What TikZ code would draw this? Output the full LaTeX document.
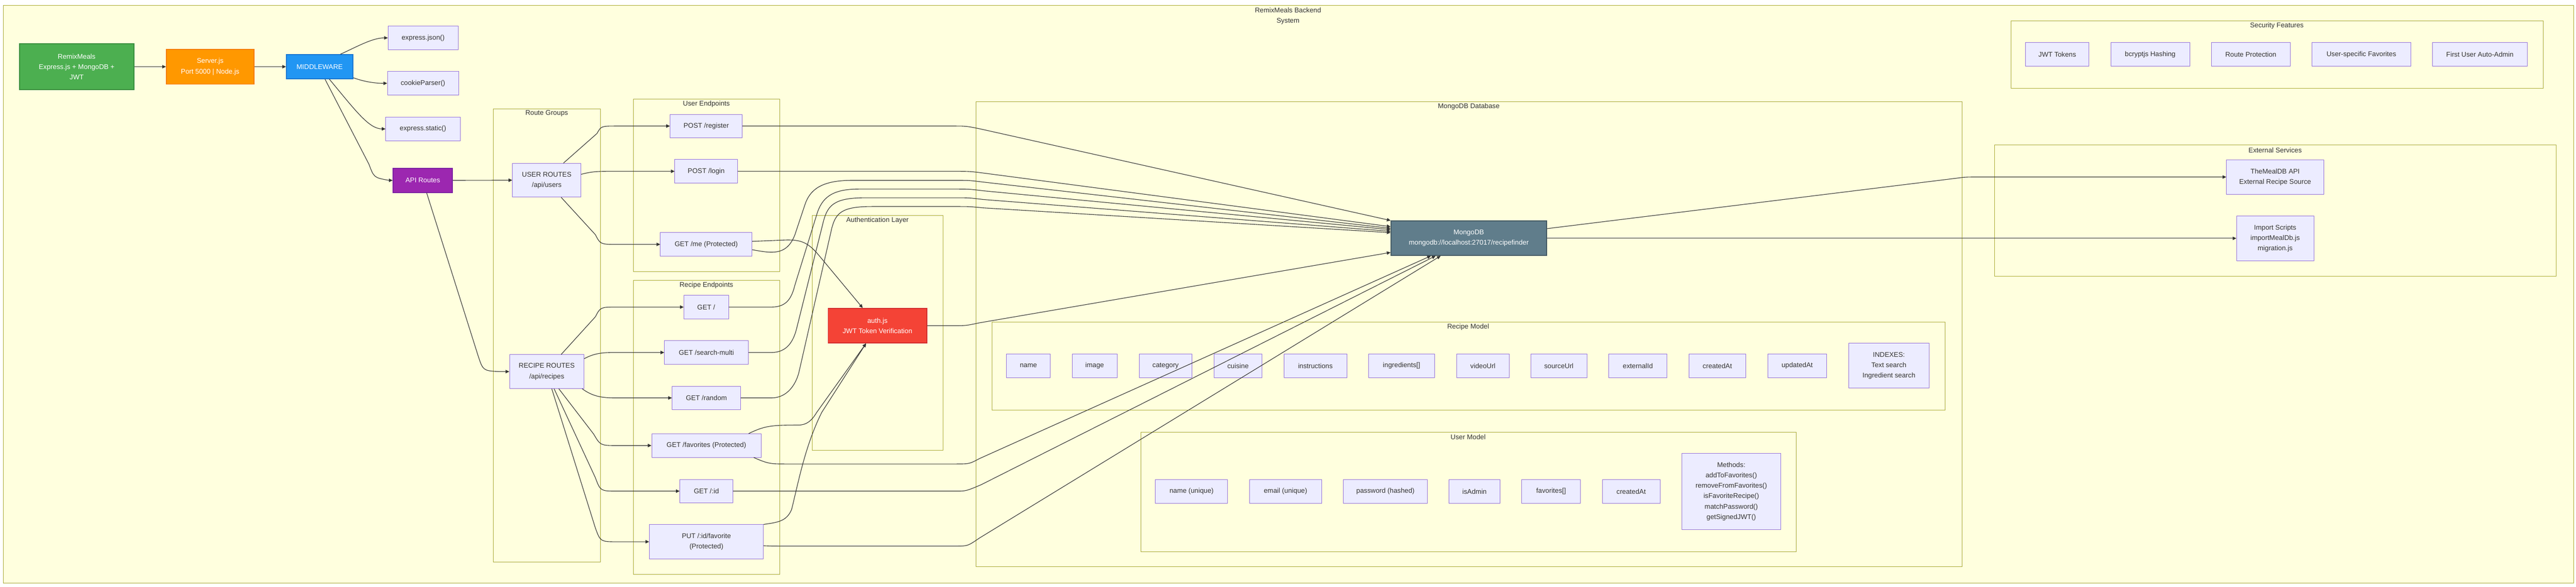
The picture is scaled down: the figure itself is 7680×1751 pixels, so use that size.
\documentclass[tikz,border=0pt]{standalone}
\usepackage{fontspec}
\setmainfont{Liberation Sans}
\usetikzlibrary{arrows.meta}
\definecolor{clfill}{HTML}{FFFFDE}
\definecolor{cldraw}{HTML}{AAAA33}
\definecolor{ndfill}{HTML}{ECECFF}
\definecolor{nddraw}{HTML}{9370DB}
\definecolor{edgec}{HTML}{333333}
\definecolor{txt}{HTML}{333333}
\definecolor{gfill}{HTML}{4CAF50}\definecolor{gdraw}{HTML}{388E3C}
\definecolor{ofill}{HTML}{FF9800}\definecolor{odraw}{HTML}{F57C00}
\definecolor{bfill}{HTML}{2196F3}\definecolor{bdraw}{HTML}{1976D2}
\definecolor{pfill}{HTML}{9C27B0}\definecolor{pdraw}{HTML}{7B1FA2}
\definecolor{rfill}{HTML}{F44336}\definecolor{rdraw}{HTML}{D32F2F}
\definecolor{mfill}{HTML}{607D8B}\definecolor{mdraw}{HTML}{455A64}
\begin{document}
\begin{tikzpicture}[x=1pt,y=-1pt,
  cluster/.style={draw=cldraw,fill=clfill,line width=1.3pt,anchor=north west,inner sep=0pt},
  ctitle/.style={text=txt,font=\fontsize{20.4}{30}\selectfont,inner sep=0pt,align=center},
  nbox/.style={draw=nddraw,fill=ndfill,line width=1.3pt,text=txt,align=center,inner sep=0pt,font=\fontsize{20.4}{31}\selectfont},
  cbox/.style={line width=2.6pt,text=white,align=center,inner sep=0pt,font=\fontsize{20.4}{31}\selectfont},
  edge/.style={draw=edgec,line width=1.7pt,-{Triangle[length=11pt,width=10pt]}}
]
\useasboundingbox (0,0) rectangle (7680,1751);
\fill[white] (0,0) rectangle (7680,1751);

% ---------- clusters ----------
\node[cluster,minimum width=7663pt,minimum height=1722pt] (system) at (9,16) {};
\node[ctitle] (systemtitle) at (3840,48) {RemixMeals Backend\\System};

\node[cluster,minimum width=320pt,minimum height=1352pt] (routegroups) at (1470,324) {};
\node[ctitle] (routegroupstitle) at (1630,339) {Route Groups};

\node[cluster,minimum width=436pt,minimum height=514pt] (userep) at (1888,295) {};
\node[ctitle] (usereptitle) at (2106,310) {User Endpoints};

\node[cluster,minimum width=436pt,minimum height=876pt] (recipeep) at (1888,836) {};
\node[ctitle] (recipeeptitle) at (2106,851) {Recipe Endpoints};

\node[cluster,minimum width=390pt,minimum height=700pt] (authlayer) at (2421,642) {};
\node[ctitle] (authlayertitle) at (2616,657) {Authentication Layer};

\node[cluster,minimum width=2940pt,minimum height=1388pt] (mongodbdb) at (2909,302) {};
\node[ctitle] (mongodbdbtitle) at (4379,318) {MongoDB Database};

\node[cluster,minimum width=2841pt,minimum height=262pt] (recipemodel) at (2957,960) {};
\node[ctitle] (recipemodeltitle) at (4377,976) {Recipe Model};

\node[cluster,minimum width=1954pt,minimum height=357pt] (usermodel) at (3400,1288) {};
\node[ctitle] (usermodeltitle) at (4377,1303) {User Model};

\node[cluster,minimum width=1586pt,minimum height=201pt] (security) at (5995,62) {};
\node[ctitle] (securitytitle) at (6788,77) {Security Features};

\node[cluster,minimum width=1674pt,minimum height=391pt] (external) at (5946,432) {};
\node[ctitle] (externaltitle) at (6783,448) {External Services};

% ---------- coloured nodes ----------
\node[cbox,draw=gdraw,fill=gfill,minimum width=341pt,minimum height=136pt] (remix) at (228.5,199) {RemixMeals\\Express.js + MongoDB +\\JWT};
\node[cbox,draw=odraw,fill=ofill,minimum width=261pt,minimum height=104pt] (server) at (626.5,199) {Server.js\\Port 5000 | Node.js};
\node[cbox,draw=bdraw,fill=bfill,minimum width=198pt,minimum height=72pt] (mw) at (953,199) {MIDDLEWARE};
\node[cbox,draw=pdraw,fill=pfill,minimum width=177pt,minimum height=72pt] (api) at (1260.5,538) {API Routes};
\node[cbox,draw=rdraw,fill=rfill,minimum width=294pt,minimum height=103pt] (auth) at (2616,971.5) {auth.js\\JWT Token Verification};
\node[cbox,draw=mdraw,fill=mfill,minimum width=464pt,minimum height=103pt] (mongo) at (4379,710.5) {MongoDB\\mongodb://localhost:27017/recipefinder};

% ---------- middleware ----------
\node[nbox,minimum width=209pt,minimum height=70pt] (ejson) at (1261.5,113) {express.json()};
\node[nbox,minimum width=212pt,minimum height=71pt] (cookie) at (1261,248.5) {cookieParser()};
\node[nbox,minimum width=222pt,minimum height=71pt] (estatic) at (1261,384.5) {express.static()};

% ---------- routes ----------
\node[nbox,minimum width=204pt,minimum height=101pt] (userroutes) at (1630,537.5) {USER ROUTES\\/api/users};
\node[nbox,minimum width=222pt,minimum height=101pt] (reciperoutes) at (1630,1108.5) {RECIPE ROUTES\\/api/recipes};

\node[nbox,minimum width=215pt,minimum height=70pt] (register) at (2105.5,376) {POST /register};
\node[nbox,minimum width=187pt,minimum height=70pt] (login) at (2105.5,511) {POST /login};
\node[nbox,minimum width=273pt,minimum height=70pt] (me) at (2105.5,729) {GET /me (Protected)};

\node[nbox,minimum width=133pt,minimum height=70pt] (getall) at (2105.5,916) {GET /};
\node[nbox,minimum width=250pt,minimum height=71pt] (search) at (2106,1051.5) {GET /search-multi};
\node[nbox,minimum width=204pt,minimum height=70pt] (random) at (2106,1187) {GET /random};
\node[nbox,minimum width=326pt,minimum height=70pt] (favs) at (2106,1329) {GET /favorites (Protected)};
\node[nbox,minimum width=158pt,minimum height=70pt] (byid) at (2106,1465) {GET /:id};
\node[nbox,minimum width=340pt,minimum height=102pt] (putfav) at (2106,1616) {PUT /:id/favorite\\(Protected)};

% ---------- recipe model ----------
\node[nbox,minimum width=130pt,minimum height=70pt] (rname) at (3066,1091) {name};
\node[nbox,minimum width=133pt,minimum height=70pt] (rimage) at (3263.5,1091) {image};
\node[nbox,minimum width=158pt,minimum height=70pt] (rcategory) at (3475,1091) {category};
\node[nbox,minimum width=144pt,minimum height=70pt] (rcuisine) at (3691,1091) {cuisine};
\node[nbox,minimum width=187pt,minimum height=70pt] (rinstr) at (3921.5,1091) {instructions};
\node[nbox,minimum width=197pt,minimum height=70pt] (ringr) at (4178.5,1091) {ingredients[]};
\node[nbox,minimum width=156pt,minimum height=70pt] (rvideo) at (4421,1091) {videoUrl};
\node[nbox,minimum width=167pt,minimum height=70pt] (rsource) at (4647.5,1091) {sourceUrl};
\node[nbox,minimum width=174pt,minimum height=70pt] (rext) at (4883,1091) {externalId};
\node[nbox,minimum width=170pt,minimum height=70pt] (rcreated) at (5120,1091) {createdAt};
\node[nbox,minimum width=176pt,minimum height=70pt] (rupdated) at (5358,1091) {updatedAt};
\node[nbox,minimum width=241pt,minimum height=134pt] (rindexes) at (5631.5,1091) {INDEXES:\\Text search\\Ingredient search};

% ---------- user model ----------
\node[nbox,minimum width=215pt,minimum height=70pt] (uname) at (3552.5,1466) {name (unique)};
\node[nbox,minimum width=215pt,minimum height=70pt] (uemail) at (3832.5,1466) {email (unique)};
\node[nbox,minimum width=251pt,minimum height=70pt] (upass) at (4130.5,1466) {password (hashed)};
\node[nbox,minimum width=152pt,minimum height=70pt] (uadmin) at (4396,1466) {isAdmin};
\node[nbox,minimum width=175pt,minimum height=70pt] (ufavs) at (4624.5,1466) {favorites[]};
\node[nbox,minimum width=172pt,minimum height=70pt] (ucreated) at (4863,1466) {createdAt};
\node[nbox,minimum width=295pt,minimum height=228pt] (umethods) at (5161.5,1466) {Methods:\\addToFavorites()\\removeFromFavorites()\\isFavoriteRecipe()\\matchPassword()\\getSignedJWT()};

% ---------- security ----------
\node[nbox,minimum width=189pt,minimum height=71pt] (sjwt) at (6133.5,162.5) {JWT Tokens};
\node[nbox,minimum width=235pt,minimum height=71pt] (sbcrypt) at (6410.5,162.5) {bcryptjs Hashing};
\node[nbox,minimum width=235pt,minimum height=71pt] (sroute) at (6710.5,162.5) {Route Protection};
\node[nbox,minimum width=294pt,minimum height=71pt] (sfav) at (7040,162.5) {User-specific Favorites};
\node[nbox,minimum width=283pt,minimum height=71pt] (sadmin) at (7393.5,162.5) {First User Auto-Admin};

% ---------- external ----------
\node[nbox,minimum width=290pt,minimum height=102pt] (mealdb) at (6783,528) {TheMealDB API\\External Recipe Source};
\node[nbox,minimum width=230pt,minimum height=134pt] (import) at (6783,711) {Import Scripts\\importMealDb.js\\migration.js};

% ---------- edges ----------
\draw[edge] (remix.east) -- (server.west);
\draw[edge] (server.east) -- (mw.west);
\draw[edge] ([xshift=62pt]mw.north) .. controls (1065,139) and (1110,113) .. (ejson.west);
\draw[edge] ([yshift=-33pt]mw.east) .. controls (1090,245) and (1120,248.5) .. (cookie.west);
\draw[edge] ([xshift=29pt]mw.south) .. controls (1060,330) and (1100,384.5) .. (estatic.west);
\draw[edge] ([xshift=16pt]mw.south) -- (1100,490) .. controls (1115,530) .. (1160,538) -- (api.west);

\draw[edge] (api.east) -- (userroutes.west);
\draw[edge] ([xshift=11.5pt]api.south) -- (1425,1060) .. controls (1440,1106) .. (1490,1108.5) -- (reciperoutes.west);

\draw[edge] ([xshift=50pt]userroutes.north) -- (1780,398) .. controls (1792,376) .. (1840,376) -- (register.west);
\draw[edge] ([yshift=17.5pt]userroutes.east) .. controls (1770,510) and (1790,511) .. (1840,511) -- (login.west);
\draw[edge] ([xshift=43pt]userroutes.south) -- (1775,700) .. controls (1790,729) .. (1840,729) -- (me.west);

\draw[edge] ([xshift=43pt]reciperoutes.north) -- (1775,945) .. controls (1790,916) .. (1840,916) -- (getall.west);
\draw[edge] ([yshift=38.5pt]reciperoutes.east) .. controls (1775,1052) and (1800,1051.5) .. (1840,1051.5) -- (search.west);
\draw[edge] ([xshift=-6pt]reciperoutes.south east) .. controls (1770,1185) and (1800,1187) .. (1840,1187) -- (random.west);
\draw[edge] ([xshift=36pt]reciperoutes.south) -- (1770,1295) .. controls (1790,1329) .. (1840,1329) -- (favs.west);
\draw[edge] ([xshift=22pt]reciperoutes.south) -- (1775,1425) .. controls (1790,1465) .. (1840,1465) -- (byid.west);
\draw[edge] ([xshift=15pt]reciperoutes.south) -- (1775,1575) .. controls (1790,1616) .. (1840,1616) -- (putfav.west);

% endpoints -> MongoDB
\draw[edge] (register.east) -- (2840,376) .. controls (2880,376) .. (2920,384) -- (mongo.north west);
\draw[edge] (login.east) -- (2850,511) .. controls (2890,511) .. (2930,516) -- ([yshift=34.5pt]mongo.west);
\draw[edge] ([yshift=-16pt]me.east) .. controls (2300,755) and (2345,765) .. (2370,700) -- (2400,610) .. controls (2415,565) and (2450,538) .. (2540,538) -- (2850,538) .. controls (2890,538) .. (2930,543) -- ([yshift=29.5pt]mongo.west);
\draw[edge] (getall.east) -- (2300,916) .. controls (2345,916) and (2360,890) .. (2370,850) -- (2435,640) .. controls (2450,590) and (2480,564) .. (2560,564) -- (2850,564) .. controls (2890,564) .. (2930,569) -- ([yshift=25.5pt]mongo.west);
\draw[edge] (search.east) -- (2300,1051.5) .. controls (2345,1051.5) and (2365,1020) .. (2375,980) -- (2455,660) .. controls (2468,610) and (2490,590) .. (2580,590) -- (2850,590) .. controls (2890,590) .. (2930,595) -- ([yshift=20.5pt]mongo.west);
\draw[edge] (random.east) -- (2300,1187) .. controls (2345,1187) and (2372,1150) .. (2382,1110) -- (2480,680) .. controls (2492,635) and (2510,616) .. (2600,616) -- (2850,616) .. controls (2890,616) .. (2930,620) -- ([yshift=16.5pt]mongo.west);
\draw[edge] ([xshift=141pt]favs.south) .. controls (2290,1384) and (2300,1384) .. (2340,1384) -- (2850,1384) .. controls (2890,1384) .. (2920,1368) -- ([xshift=-113pt]mongo.south);
\draw[edge] (byid.east) -- (2850,1465) .. controls (2880,1465) .. (2925,1446) -- ([xshift=-99pt]mongo.south);
\draw[edge] ([yshift=-12pt]putfav.east) .. controls (2300,1629) .. (2340,1629) -- (2850,1629) .. controls (2885,1629) .. (2920,1605) -- ([xshift=-84pt]mongo.south);

% protected endpoints -> auth
\draw[edge] ([yshift=9pt]me.east) -- (2340,716) .. controls (2390,714) and (2410,725) .. (2440,760) -- ([xshift=-44pt]auth.north);
\draw[edge] ([xshift=126pt]favs.north) .. controls (2280,1270) and (2300,1268) .. (2380,1268) .. controls (2405,1268) and (2420,1255) .. (2435,1230) -- ([xshift=-34pt]auth.south);
\draw[edge] (putfav.north east) .. controls (2320,1558) and (2345,1555) .. (2360,1520) .. controls (2380,1440) and (2400,1330) .. (2450,1230) -- ([xshift=-34pt]auth.south);

% auth -> MongoDB
\draw[edge] (auth.east) -- (2840,971.5) .. controls (2880,971.5) .. (2920,963) -- ([yshift=-42.5pt]mongo.west);

% MongoDB -> external
\draw[edge] ([yshift=28.5pt]mongo.east) -- (5830,532) .. controls (5860,528) .. (5900,528) -- (mealdb.west);
\draw[edge] (mongo.east |- import.west) -- (import.west);
\end{tikzpicture}
\end{document}
